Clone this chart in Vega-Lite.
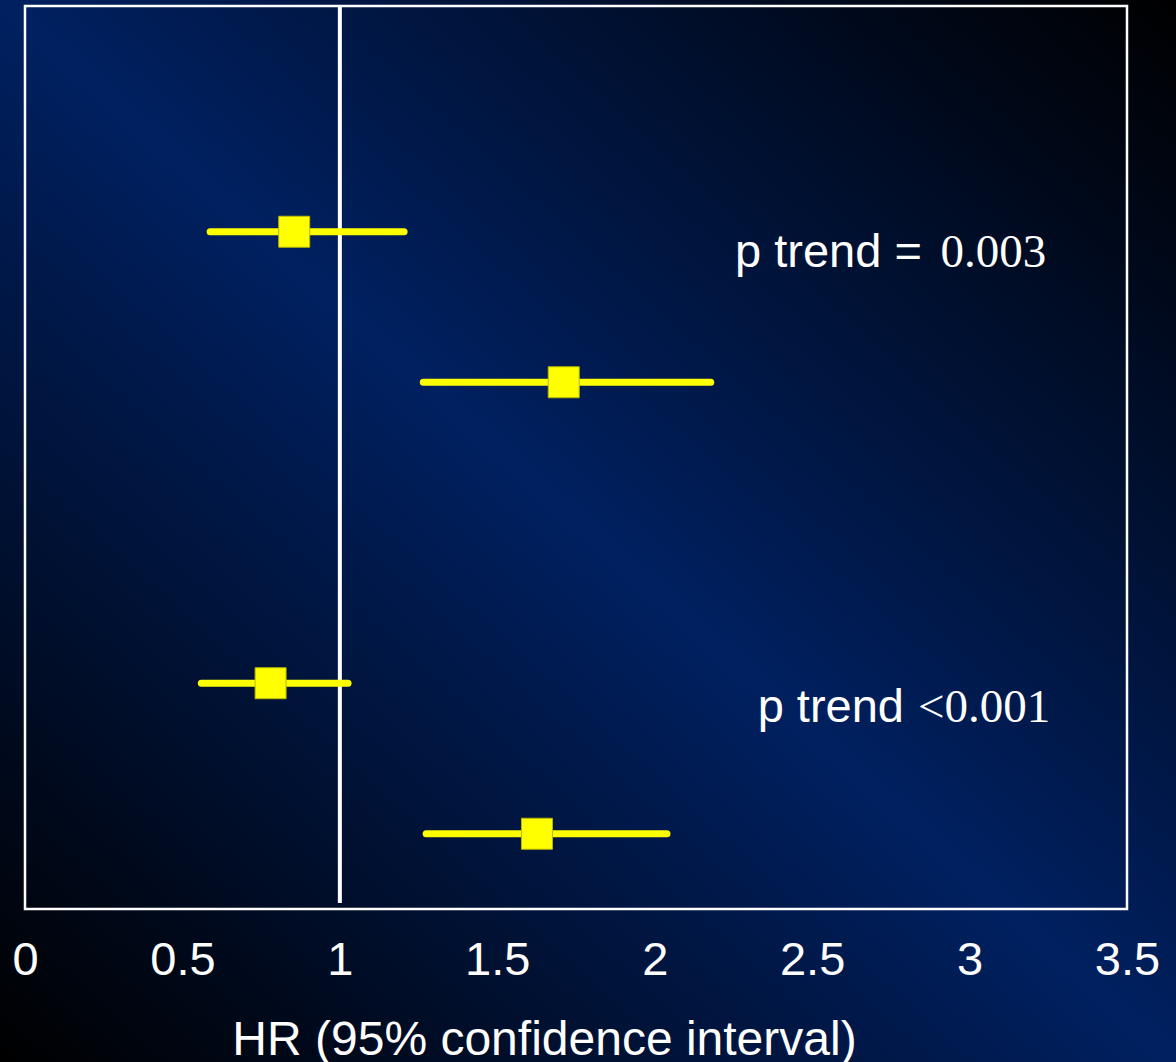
{
  "$schema": "https://vega.github.io/schema/vega-lite/v6.json",
  "width": 1102,
  "height": 903,
  "autosize": {"type": "none"},
  "padding": {"left": 25, "top": 6, "right": 49, "bottom": 153},
  "background": "#000000",
  "data": {"values": [{"panel": "forest"}]},
  "config": {
    "view": {"stroke": null},
    "axisX": {
      "zindex": 2,
      "domain": false,
      "ticks": false,
      "tickSize": 0,
      "grid": false,
      "format": "~g",
      "labelFont": "Liberation Sans",
      "labelFontSize": 47,
      "labelColor": "#ffffff",
      "labelBaseline": "alphabetic",
      "labelPadding": 65,
      "labelFlush": false,
      "labelOverlap": false,
      "titleFont": "Liberation Sans",
      "titleFontSize": 48,
      "titleFontWeight": "normal",
      "titleColor": "#ffffff",
      "titleBaseline": "alphabetic",
      "titleAlign": "center",
      "titleX": 519,
      "titleY": 145
    }
  },
  "datasets": {
    "estimates": [
      {"group": "A", "level": "low", "pos": 4.5, "hr": 0.855, "lower": 0.588, "upper": 1.204},
      {"group": "A", "level": "high", "pos": 3.5, "hr": 1.711, "lower": 1.265, "upper": 2.178},
      {"group": "B", "level": "low", "pos": 1.5, "hr": 0.78, "lower": 0.56, "upper": 1.026},
      {"group": "B", "level": "high", "pos": 0.5, "hr": 1.626, "lower": 1.274, "upper": 2.039}
    ],
    "notes": [
      {"face": "sans", "label": "p trend =", "hr": 2.255, "pos": 4.268},
      {"face": "serif", "label": "0.003", "hr": 2.908, "pos": 4.268},
      {"face": "sans", "label": "p trend", "hr": 2.327, "pos": 1.245},
      {"face": "serif", "label": "<0.001", "hr": 2.836, "pos": 1.245}
    ]
  },
  "layer": [
    {
      "description": "Slide backdrop: diagonal black-to-navy-to-black gradient behind everything",
      "mark": {
        "type": "rect",
        "color": {
          "gradient": "linear",
          "x1": 0, "y1": 1, "x2": 1, "y2": 0,
          "stops": [
            {"offset": 0, "color": "#000000"},
            {"offset": 0.5, "color": "#002060"},
            {"offset": 1, "color": "#000000"}
          ]
        }
      },
      "encoding": {
        "x": {"datum": -0.0794, "type": "quantitative", "scale": {"domain": [0, 3.5], "nice": false, "zero": false}, "title": "HR (95% confidence interval)", "axis": {"values": [0, 0.5, 1, 1.5, 2, 2.5, 3, 3.5], "zindex": 2, "format": "~g"}},
        "x2": {"datum": 3.6556},
        "y": {"datum": -1.0166, "type": "quantitative", "scale": {"domain": [0, 6], "nice": false, "zero": false}, "axis": null},
        "y2": {"datum": 6.0399}
      }
    },
    {
      "description": "White plot frame",
      "mark": {"type": "rect", "filled": false, "stroke": "#ffffff", "strokeWidth": 2.5},
      "encoding": {
        "x": {"datum": 0, "type": "quantitative", "title": "HR (95% confidence interval)", "axis": {"values": [0, 0.5, 1, 1.5, 2, 2.5, 3, 3.5], "zindex": 2, "format": "~g"}},
        "x2": {"datum": 3.5},
        "y": {"datum": 0, "type": "quantitative", "axis": null},
        "y2": {"datum": 6}
      }
    },
    {
      "description": "Null line at HR = 1",
      "mark": {"type": "rule", "color": "#ffffff", "strokeWidth": 4},
      "encoding": {
        "x": {"datum": 1, "type": "quantitative", "title": "HR (95% confidence interval)", "axis": {"values": [0, 0.5, 1, 1.5, 2, 2.5, 3, 3.5], "zindex": 2, "format": "~g"}},
        "y": {"datum": 0.04, "type": "quantitative", "axis": null},
        "y2": {"datum": 6}
      }
    },
    {
      "data": {"name": "estimates"},
      "mark": {"type": "rule", "color": "#ffff00", "strokeWidth": 7, "strokeCap": "round"},
      "encoding": {
        "x": {"field": "lower", "type": "quantitative", "title": "HR (95% confidence interval)", "axis": {"values": [0, 0.5, 1, 1.5, 2, 2.5, 3, 3.5], "zindex": 2, "format": "~g"}},
        "x2": {"field": "upper"},
        "y": {"field": "pos", "type": "quantitative", "axis": null}
      }
    },
    {
      "data": {"name": "estimates"},
      "mark": {"type": "point", "shape": "square", "filled": true, "size": 960, "color": "#ffff00", "stroke": "#b8b800", "strokeWidth": 1, "opacity": 1},
      "encoding": {
        "x": {"field": "hr", "type": "quantitative", "title": "HR (95% confidence interval)", "axis": {"values": [0, 0.5, 1, 1.5, 2, 2.5, 3, 3.5], "zindex": 2, "format": "~g"}},
        "y": {"field": "pos", "type": "quantitative", "axis": null}
      }
    },
    {
      "data": {"name": "notes"},
      "transform": [{"filter": "datum.face === 'sans'"}],
      "mark": {"type": "text", "font": "Liberation Sans", "fontSize": 47, "color": "#ffffff", "align": "left", "baseline": "alphabetic"},
      "encoding": {
        "x": {"field": "hr", "type": "quantitative", "title": "HR (95% confidence interval)", "axis": {"values": [0, 0.5, 1, 1.5, 2, 2.5, 3, 3.5], "zindex": 2, "format": "~g"}},
        "y": {"field": "pos", "type": "quantitative", "axis": null},
        "text": {"field": "label"}
      }
    },
    {
      "data": {"name": "notes"},
      "transform": [{"filter": "datum.face === 'serif'"}],
      "mark": {"type": "text", "font": "Liberation Serif", "fontSize": 47, "color": "#ffffff", "align": "left", "baseline": "alphabetic"},
      "encoding": {
        "x": {"field": "hr", "type": "quantitative", "title": "HR (95% confidence interval)", "axis": {"values": [0, 0.5, 1, 1.5, 2, 2.5, 3, 3.5], "zindex": 2, "format": "~g"}},
        "y": {"field": "pos", "type": "quantitative", "axis": null},
        "text": {"field": "label"}
      }
    }
  ]
}
